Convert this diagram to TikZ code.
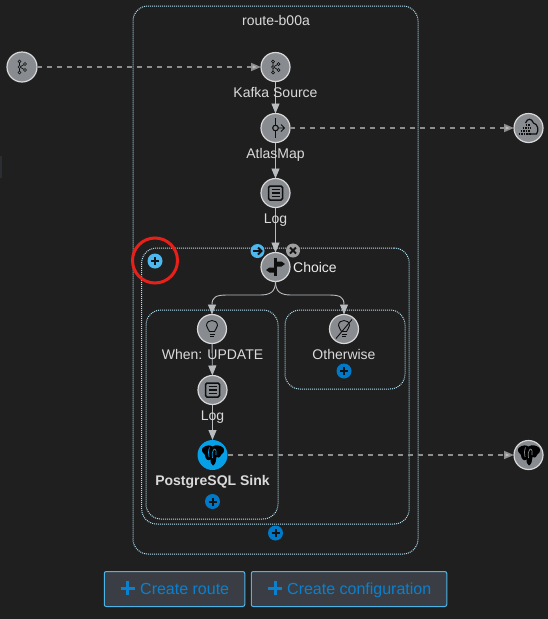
\documentclass[tikz,border=0pt]{standalone}
\usepackage{fontspec}
\setmainfont{Liberation Sans}
\usetikzlibrary{arrows.meta,shapes.geometric}
\definecolor{bgc}{HTML}{1F1F1F}
\definecolor{nodefill}{HTML}{888C90}
\definecolor{noderim}{HTML}{D8D8D8}
\definecolor{labelc}{HTML}{DADADA}
\definecolor{edgec}{HTML}{B8BCBF}
\definecolor{dashc}{HTML}{8E8E8E}
\definecolor{dotc}{HTML}{B0E0F2}
\definecolor{sinkc}{HTML}{06A0E8}
\definecolor{lightblue}{HTML}{4DB8F0}
\definecolor{darkblue}{HTML}{0079C8}
\definecolor{btnfill}{HTML}{3A3E44}
\definecolor{btnrim}{HTML}{4DB4E8}
\definecolor{btntext}{HTML}{0A80CF}
\definecolor{iconc}{HTML}{0E0E0E}
\definecolor{ringc}{HTML}{E8201A}
\definecolor{barc}{HTML}{2C2D33}
\tikzset{
  x=1pt,y=-1pt,
  stepnode/.style={circle,fill=nodefill,draw=noderim,line width=1.2pt,minimum size=29pt,inner sep=0pt,outer sep=0pt},
  sinknode/.style={circle,fill=sinkc,minimum size=30pt,inner sep=0pt,outer sep=0pt},
  boxnode/.style={rectangle,rounded corners=15pt,draw=dotc,line width=1pt,dash pattern=on 1pt off 1pt,inner sep=0pt,outer sep=0pt},
  lbl/.style={text=labelc,font=\fontsize{14}{16}\selectfont,inner sep=0pt,anchor=base},
  edge/.style={draw=edgec,line width=.9pt,-{Triangle[length=10pt,width=8pt,fill=edgec]}},
  dashedge/.style={draw=dashc,line width=1.6pt,dash pattern=on 5pt off 5pt,-{Triangle[length=10pt,width=8pt,fill=edgec]}},
  actionbtn/.style={circle,minimum size=15pt,inner sep=0pt,outer sep=0pt},
  mainbtn/.style={rectangle,rounded corners=2pt,fill=btnfill,draw=btnrim,line width=1pt,inner sep=0pt,outer sep=0pt,minimum height=35pt},
  btnlbl/.style={text=btntext,font=\fontsize{16}{18}\selectfont,inner sep=0pt,anchor=base west},
  icon/.style={draw=iconc,line width=.9pt,fill=none},
}
\newcommand{\kafkaicon}[1]{\begin{scope}[shift={(#1)}]
  \foreach \p in {(-2.5,-5.5),(-2.5,0),(-2.5,5.5),(3,-3),(3,3)} \draw[icon,line width=.7pt] \p circle (1.5);
  \draw[icon,line width=.7pt] (-2.5,-4)--(-2.5,-1.5) (-2.5,1.5)--(-2.5,4) (-1.1,-.6)--(1.7,-2.3) (-1.1,.6)--(1.7,2.3);
\end{scope}}
\newcommand{\logicon}[1]{\begin{scope}[shift={(#1)}]
  \draw[icon,line width=1.5pt,rounded corners=1.5pt] (-7,-7) rectangle (7,7);
  \draw[icon,line width=1.4pt] (-4,-3.5)--(4,-3.5) (-4,0)--(4,0) (-4,3.5)--(4,3.5);
\end{scope}}
\newcommand{\bulbicon}[1]{\begin{scope}[shift={(#1)}]
  \draw[icon] (-2.5,2.5) .. controls (-3,0) and (-5.5,-1) .. (-5.5,-3.5) .. controls (-5.5,-7) and (-2.5,-8.5) .. (0,-8.5) .. controls (2.5,-8.5) and (5.5,-7) .. (5.5,-3.5) .. controls (5.5,-1) and (3,0) .. (2.5,2.5) -- cycle;
  \draw[icon] (-2.5,5)--(2.5,5) (-1.7,7.5)--(1.7,7.5);
\end{scope}}
\newcommand{\elephant}[2]{\begin{scope}[shift={(#1)}]
  \fill[black] (-10,-7) .. controls (-6,-10.5) and (-2,-10) .. (0,-8.5) .. controls (3,-10.5) and (8,-10) .. (11,-7) .. controls (12.5,-4) and (10.5,-1) .. (8.5,0) .. controls (7.5,3) and (5,3) .. (4,2) .. controls (3.5,5) and (3.5,9) .. (0.5,10.5) .. controls (-2,9.5) and (-2,6) .. (-2,4.5) .. controls (-5,7) and (-7.5,3) .. (-7.5,0) .. controls (-9.5,-2) and (-11.5,-4) .. (-10,-7) -- cycle;
  \draw[#2,line width=.7pt] (-3,-7.5) .. controls (-4.5,-4) and (-4,-1) .. (-3.5,2) (1.5,-6) .. controls (-.5,-4) and (-.5,-1) .. (0,3) (1.5,-6) .. controls (4,-6) and (4,-2) .. (3.5,0);
\end{scope}}
\newcommand{\plusmark}[2]{\draw[#2,line width=2pt] ([xshift=-4pt]#1.center)--([xshift=4pt]#1.center) ([yshift=-4pt]#1.center)--([yshift=4pt]#1.center);}
\begin{document}
\begin{tikzpicture}
\path[use as bounding box,fill=bgc] (0,0) rectangle (548,619);
\fill[barc] (0,156) rectangle (2,178);
% containers
\node[boxnode,minimum width=285pt,minimum height=548pt] (route) at (275.5,280) {};
\node[boxnode,minimum width=267.5pt,minimum height=276pt] (choicebox) at (275.4,386) {};
\node[boxnode,minimum width=132pt,minimum height=209pt] (whenbox) at (212,414.5) {};
\node[boxnode,minimum width=120pt,minimum height=79pt] (otherbox) at (345,349.5) {};
% step nodes
\node[stepnode,minimum size=30pt] (extkafka) at (22,67) {};
\node[stepnode] (kafka) at (275.5,67) {};
\node[stepnode] (atlas) at (275.5,128) {};
\node[stepnode] (log) at (275.5,193) {};
\node[stepnode] (choice) at (275.5,267) {};
\node[stepnode] (when) at (212,329) {};
\node[stepnode] (other) at (344,329) {};
\node[stepnode] (log2) at (212.5,390) {};
\node[sinknode] (sink) at (212.5,455) {};
\node[stepnode] (extcloud) at (528.5,128) {};
\node[stepnode] (extpg) at (528.5,455) {};
% connectors
\draw[dashedge] (extkafka) -- (kafka);
\draw[dashedge] (atlas) -- (extcloud);
\draw[dashedge] (sink) -- (extpg);
\draw[edge] (kafka) -- (atlas);
\draw[edge] (atlas) -- (log);
\draw[edge] (log) -- (choice);
\draw[edge] (when) -- (log2);
\draw[edge] (log2) -- (sink);
\draw[edge] (choice.south) .. controls (275.5,292) and (270,295) .. (260,295) -- (227,295) .. controls (216,295) and (212,297) .. (when.north);
\draw[edge] (choice.south) .. controls (275.5,292) and (281,295) .. (291,295) -- (329,295) .. controls (340,295) and (344,297) .. (other.north);
% icons
\kafkaicon{kafka}
\kafkaicon{extkafka}
\logicon{log}
\logicon{log2}
\bulbicon{when}
\bulbicon{other}
\begin{scope}[shift={(other)}]
  \draw[icon] (-8,9.5)--(8,-9.5);
\end{scope}
\begin{scope}[shift={(atlas)}]
  \draw[icon] (0,-10)--(0,-3) (0,3)--(0,10);
  \draw[icon,line width=1.1pt] (0,0) circle (2.8);
  \draw[icon] (2.8,0)--(9,0) (5.5,-3.5)--(9,0)--(5.5,3.5);
\end{scope}
\begin{scope}[shift={(choice)}]
  \fill[iconc] (-1.2,-9) rectangle (1.2,9);
  \fill[iconc] (-1.2,.5) -- (-6,.5) -- (-9.5,3) -- (-6,5.5) -- (-1.2,5.5) -- cycle;
  \fill[iconc] (1.2,-5.5) -- (6,-5.5) -- (9.5,-3) -- (6,-.5) -- (1.2,-.5) -- cycle;
\end{scope}
\begin{scope}[shift={(extcloud)}]
  \draw[icon,line width=1.2pt] (-3,-5) .. controls (-1,-10) and (3,-10) .. (5,-5) .. controls (9,-4) and (11,2) .. (8,6) -- (-2,6);
  \foreach \yy/\xa in {-3/-3,0/-6,3/-8,6/-10} \draw[iconc,line width=1.6pt,dash pattern=on 1.6pt off 1pt] (\xa,\yy)--(2,\yy);
\end{scope}
\elephant{sink}{sinkc}
\elephant{extpg}{nodefill}
% labels
\node[lbl] (tr) at (276,25) {route-b00a};
\node[lbl] (t1) at (275.5,97) {Kafka Source};
\node[lbl] (t2) at (275.5,158) {AtlasMap};
\node[lbl] (t3) at (275.5,223) {Log};
\node[lbl,text=white!92!black,anchor=base west] (t4) at (293,272) {Choice};
\node[lbl] (t5) at (212.5,359) {When: UPDATE};
\node[lbl] (t6) at (344,359) {Otherwise};
\node[lbl] (t7) at (212.5,420) {Log};
\node[lbl,font=\fontsize{14}{16}\selectfont\bfseries] (t8) at (212.5,485) {PostgreSQL Sink};
% action buttons
\node[actionbtn,fill=lightblue] (addleft) at (155,261) {};
\plusmark{addleft}{bgc!60!black}
\node[circle,draw=ringc,line width=3pt,minimum size=45pt,inner sep=0pt] (ring) at (155,260.5) {};
\node[actionbtn,fill=lightblue,minimum size=14pt] (go) at (257.5,251) {};
\draw[bgc!60!black,line width=1.8pt] (253,251)--(261,251) (258,247.5)--(261.5,251)--(258,254.5);
\node[actionbtn,fill=gray!75,minimum size=14pt] (del) at (293,250.5) {};
\draw[bgc!70!black,line width=2pt] (290,247.5)--(296,253.5) (290,253.5)--(296,247.5);
\node[actionbtn,fill=darkblue] (addother) at (344,371) {};
\plusmark{addother}{bgc!60!black}
\node[actionbtn,fill=darkblue] (addsink) at (212.5,501.5) {};
\plusmark{addsink}{bgc!60!black}
\node[actionbtn,fill=darkblue] (addroute) at (275.5,533) {};
\plusmark{addroute}{bgc!60!black}
% main buttons
\node[mainbtn,minimum width=140.5pt] (b1) at (174.5,589) {};
\node[mainbtn,minimum width=195.5pt] (b2) at (349,589) {};
\draw[btntext,line width=3pt] (120.5,588)--(134.5,588) (127.5,581)--(127.5,595);
\draw[btntext,line width=3pt] (268,588)--(282,588) (275,581)--(275,595);
\node[btnlbl] (b1t) at (140,594) {Create route};
\node[btnlbl] (b2t) at (287,594) {Create configuration};
\end{tikzpicture}
\end{document}
